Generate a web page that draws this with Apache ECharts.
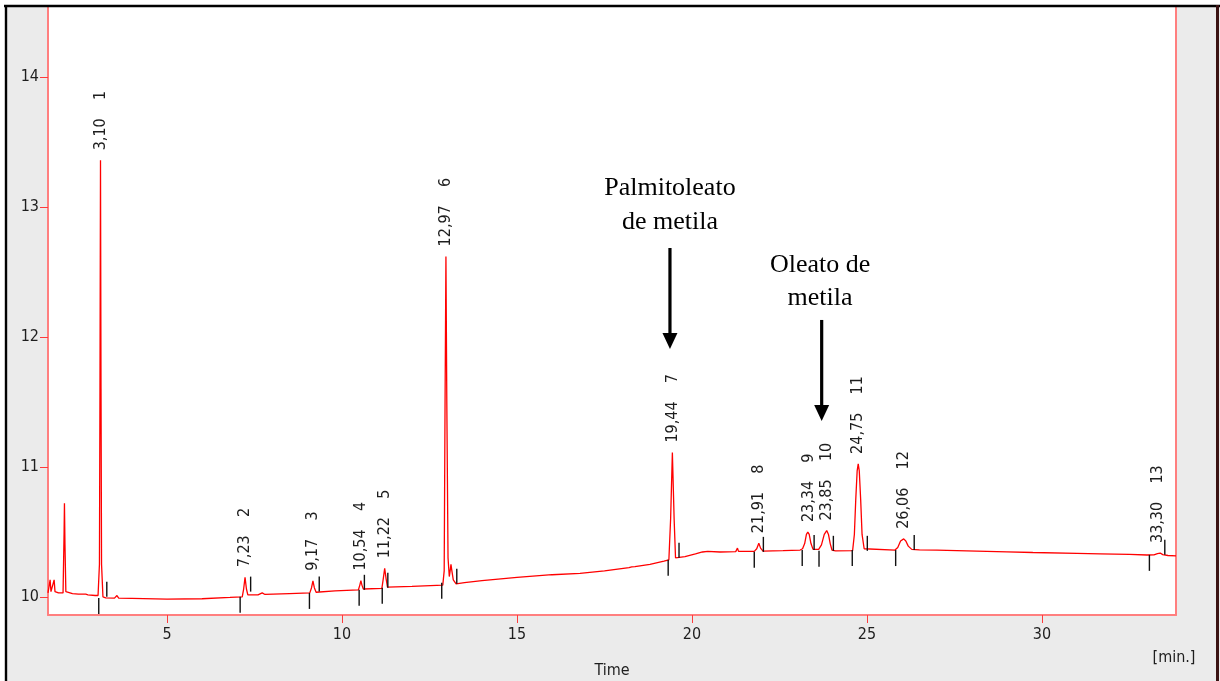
<!DOCTYPE html>
<html><head><meta charset="utf-8">
<script src="https://cdn.jsdelivr.net/npm/echarts@6/dist/echarts.min.js"></script>
<style>html,body{margin:0;padding:0;background:#fff}#c{width:1220px;height:681px}</style>
</head><body><div id="c"></div>
<script>
// ---- data ----
const signal = [
  [1.60,10.03],[1.64,10.035],[1.66,10.13],[1.685,10.04],[1.74,10.04],[1.775,10.13],[1.80,10.04],
  [1.90,10.03],[2.03,10.03],[2.06,10.5],[2.07,10.72],[2.085,10.4],[2.11,10.04],[2.30,10.025],
  [2.47,10.02],[2.50,10.035],[2.53,10.02],[2.68,10.02],[2.71,10.03],[2.74,10.015],[2.95,10.01],
  [3.03,10.01],[3.07,10.25],[3.085,11.6],[3.10,13.36],[3.115,11.6],[3.13,10.25],[3.17,10.0],
  [3.25,9.992],[3.50,9.99],[3.55,10.0],[3.57,10.01],[3.62,9.99],[4.0,9.988],[5.0,9.982],
  [6.0,9.985],[6.8,9.995],[7.15,10.0],[7.19,10.06],[7.23,10.15],[7.27,10.06],[7.31,10.015],
  [7.60,10.015],[7.72,10.03],[7.80,10.018],[8.50,10.025],[9.08,10.03],[9.13,10.07],[9.17,10.123],
  [9.21,10.07],[9.26,10.035],[9.80,10.045],[10.47,10.054],[10.51,10.09],[10.54,10.125],[10.57,10.09],
  [10.61,10.06],[11.14,10.065],[11.18,10.14],[11.22,10.22],[11.26,10.14],[11.30,10.075],[12.0,10.08],
  [12.88,10.09],[12.92,10.2],[12.945,11.5],[12.97,12.62],[12.995,11.5],[13.03,10.3],[13.066,10.156],
  [13.09,10.2],[13.114,10.25],[13.14,10.2],[13.18,10.13],[13.26,10.1],[13.5,10.11],[14.0,10.125],
  [15.0,10.15],[16.0,10.17],[16.8,10.18],[17.5,10.2],[18.2,10.225],[18.28,10.23],[18.32,10.245],
  [18.37,10.232],[18.8,10.25],[19.2,10.275],[19.34,10.285],[19.39,10.6],[19.44,11.11],[19.49,10.6],
  [19.53,10.3],[19.8,10.31],[20.1,10.33],[20.3,10.345],[20.45,10.35],[20.8,10.345],[21.25,10.348],
  [21.3,10.375],[21.33,10.35],[21.78,10.35],[21.85,10.37],[21.91,10.413],[21.96,10.375],[22.03,10.352],
  [22.6,10.355],[23.09,10.36],[23.16,10.37],[23.22,10.41],[23.27,10.48],[23.31,10.498],[23.35,10.48],
  [23.40,10.41],[23.46,10.365],[23.51,10.36],[23.62,10.365],[23.70,10.40],[23.78,10.48],[23.85,10.51],
  [23.90,10.48],[23.95,10.41],[24.0,10.36],[24.1,10.354],[24.59,10.356],[24.64,10.48],[24.68,10.75],
  [24.72,10.97],[24.75,11.023],[24.78,10.97],[24.82,10.75],[24.86,10.48],[24.92,10.37],[24.96,10.355],
  [25.8,10.36],[25.88,10.38],[25.96,10.43],[26.05,10.446],[26.11,10.43],[26.18,10.39],[26.28,10.365],
  [26.5,10.362],[27.0,10.36],[27.85,10.354],[29.0,10.346],[29.74,10.341],[31.0,10.334],[31.66,10.331],
  [32.5,10.326],[33.0,10.322],[33.2,10.323],[33.3,10.333],[33.38,10.337],[33.45,10.325],[33.6,10.318],
  [33.83,10.315]
];
const peakNumbers = [1,2,3,4,5,6,7,8,9,10,11,12,13];
const peakTimes   = [3.10,7.23,9.17,10.54,11.22,12.97,19.44,21.91,23.34,23.85,24.75,26.06,33.30];
const peakHeights = [13.36,10.15,10.123,10.125,10.22,12.62,11.11,10.413,10.498,10.51,11.023,10.446,10.337];
const startTimes  = [3.05,7.09,9.07,10.49,11.15,12.85,19.32,21.78,23.15,23.63,24.58,25.82,33.07];
const startLevels = [9.99,10.0,10.03,10.054,10.07,10.108,10.285,10.346,10.36,10.354,10.36,10.36,10.323];
const endTimes    = [3.28,7.39,9.35,10.64,11.31,13.28,19.63,22.04,23.49,24.04,25.01,26.35,33.51];
const endLevels   = [10.0,10.04,10.04,10.054,10.07,10.1,10.3,10.346,10.36,10.354,10.354,10.36,10.323];
const xTickValues = [5,10,15,20,25,30];
const yTickValues = [10,11,12,13,14];
const annotationLines = [['Palmitoleato','de metila'],['Oleato de','metila']];
const annotationTime  = [19.37,23.66];
const annotationLevel = [[13.146,12.885],[12.55,12.30]];
const arrowTime  = [19.371,23.706];
const arrowTop   = [12.685,12.131];
const arrowTip   = [11.908,11.354];

// ---- styles ----
const AX = '#ff7f7f', TXT = '#1e1e1e';
const FONT = '"DejaVu Sans Condensed","DejaVu Sans",sans-serif';
const fmt = v => v.toFixed(2).replace('.', ',');

const chart = echarts.init(document.getElementById('c'), null, {renderer:'canvas'});
chart.setOption({
  animation:false,
  backgroundColor:'#ebebeb',
  grid:{left:48,right:44,top:7,bottom:66,show:true,backgroundColor:'#fff',borderWidth:0},
  xAxis:{type:'value',min:1.6,max:33.83,
    axisLine:{show:true,onZero:false,lineStyle:{color:AX,width:2}},
    axisTick:{show:true,length:8,customValues:xTickValues,lineStyle:{color:'#ff3c3c',width:1}},
    axisLabel:{customValues:xTickValues,margin:12,color:TXT,fontSize:16,fontFamily:FONT},
    splitLine:{show:false}},
  yAxis:[{type:'value',min:9.86,max:14.54,
    axisLine:{show:true,onZero:false,lineStyle:{color:AX,width:2}},
    axisTick:{show:true,length:8,customValues:yTickValues,lineStyle:{color:'#ff3c3c',width:1}},
    axisLabel:{customValues:yTickValues,margin:9,color:TXT,fontSize:16,fontFamily:FONT},
    splitLine:{show:false}},
   {type:'value',min:9.86,max:14.54,position:'right',
    axisLine:{show:true,onZero:false,lineStyle:{color:AX,width:2}},
    axisTick:{show:false},axisLabel:{show:false},splitLine:{show:false}}],
  series:[
    {type:'line',data:signal,showSymbol:false,symbol:'none',lineStyle:{color:'#ff0000',width:1.3},z:3},
    {type:'custom',data:startTimes.map((t,i)=>[t,startLevels[i]]),clip:false,z:4,
      renderItem:(p,api)=>{const c=api.coord([api.value(0),api.value(1)]);
        return {type:'line',shape:{x1:c[0],y1:c[1],x2:c[0],y2:c[1]+16},style:{stroke:'#111',lineWidth:1.4}};}},
    {type:'custom',data:endTimes.map((t,i)=>[t,endLevels[i]]),clip:false,z:4,
      renderItem:(p,api)=>{const c=api.coord([api.value(0),api.value(1)]);
        return {type:'line',shape:{x1:c[0],y1:c[1],x2:c[0],y2:c[1]-15},style:{stroke:'#111',lineWidth:1.4}};}},
    {type:'custom',data:peakTimes.map((t,i)=>[t,peakHeights[i],peakNumbers[i]]),clip:false,z:5,
      renderItem:(p,api)=>{const c=api.coord([api.value(0),api.value(1)]);
        const i=p.dataIndex;
        return {type:'text',x:c[0],y:c[1]-10,rotation:Math.PI/2,
          style:{text:fmt(peakTimes[i])+'    '+peakNumbers[i],fill:TXT,font:'16px '+FONT,align:'left',verticalAlign:'middle'}};}}
  ]
});

function px(t,v){return chart.convertToPixel({xAxisIndex:0,yAxisIndex:0},[t,v]);}
const g = [];
// outer frame
g.push({type:'rect',shape:{x:0,y:0,width:1220,height:5},style:{fill:'#fff'},z:50});
g.push({type:'rect',shape:{x:0,y:0,width:5,height:681},style:{fill:'#fff'},z:50});
g.push({type:'line',shape:{x1:4,y1:6,x2:1220,y2:6},style:{stroke:'#000',lineWidth:2.4},z:51});
g.push({type:'line',shape:{x1:6,y1:5,x2:6,y2:681},style:{stroke:'#000',lineWidth:2.4},z:51});
g.push({type:'line',shape:{x1:1217.5,y1:5,x2:1217.5,y2:681},style:{stroke:'#3a1212',lineWidth:3},z:51});
// axis titles
g.push({type:'text',x:612,y:671,style:{text:'Time',fill:TXT,font:'16px '+FONT,align:'center',verticalAlign:'middle'},z:52});
g.push({type:'text',x:1174,y:658,style:{text:'[min.]',fill:TXT,font:'16px '+FONT,align:'center',verticalAlign:'middle'},z:52});
// annotations
annotationLines.forEach((lines,i)=>{
  lines.forEach((s,j)=>{const c=px(annotationTime[i],annotationLevel[i][j]);
    g.push({type:'text',x:c[0],y:c[1],style:{text:s,fill:'#000',font:'26px "Liberation Serif","Times New Roman",serif',align:'center',verticalAlign:'middle'},z:52});});
  const a=px(arrowTime[i],arrowTop[i]), b=px(arrowTime[i],arrowTip[i]);
  g.push({type:'line',shape:{x1:a[0],y1:a[1],x2:b[0],y2:b[1]-14},style:{stroke:'#000',lineWidth:3.2},z:52});
  g.push({type:'polygon',shape:{points:[[b[0]-7.5,b[1]-16],[b[0]+7.5,b[1]-16],[b[0],b[1]]]},style:{fill:'#000'},z:52});
});
chart.setOption({graphic:g});
</script></body></html>
